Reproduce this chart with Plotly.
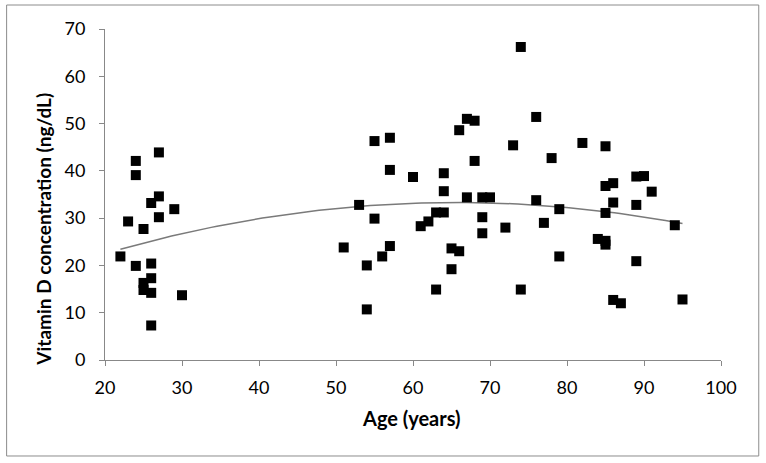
import numpy as np
import plotly.graph_objects as go

# age (years) and vitamin D (ng/dL)
age = [22, 23, 24, 24, 24, 25, 25, 25, 26, 26, 26, 26, 26, 27, 27, 27, 29, 30,
       51, 53, 54, 54, 55, 55, 56, 57, 57, 57, 60, 61, 62, 63, 63, 64, 64, 64,
       65, 65, 66, 66, 67, 67, 68, 68, 69, 69, 69, 70, 72, 73, 74, 74, 76, 76,
       77, 78, 79, 79, 82, 84, 85, 85, 85, 85, 85, 86, 86, 86, 87, 89, 89, 89,
       90, 91, 94, 95]
vit_d = [21.9, 29.3, 42.1, 39.1, 19.9, 27.7, 16.3, 14.8, 33.2, 20.4, 17.3, 14.2, 7.3,
         43.9, 34.6, 30.2, 31.9, 13.7,
         23.8, 32.8, 20.0, 10.7, 46.3, 29.9, 21.9, 47.0, 40.2, 24.1, 38.7, 28.3,
         29.3, 31.2, 14.9, 31.2, 35.7, 39.5, 23.6, 19.2, 23.0, 48.6, 51.0, 34.4,
         50.6, 42.1, 34.4, 30.2, 26.8, 34.4, 28.0, 45.4, 66.2, 14.9, 51.4, 33.8,
         29.0, 42.7, 31.9, 21.9, 45.9, 25.6, 45.2, 36.8, 31.1, 25.2, 24.4, 37.4,
         33.3, 12.7, 12.0, 38.8, 32.8, 20.9, 38.9, 35.6, 28.5, 12.8]

x_ticks = [20, 30, 40, 50, 60, 70, 80, 90, 100]
y_ticks = [0, 10, 20, 30, 40, 50, 60, 70]

# 2nd order polynomial trendline, like the Excel one
coef = np.polyfit(age, vit_d, 2)
trend_x = np.linspace(min(age), max(age), 100)
trend_y = np.polyval(coef, trend_x)

fig = go.Figure()
fig.add_trace(go.Scatter(x=trend_x, y=trend_y, mode="lines",
                         line=dict(color="#7a7a7a", width=1.5), hoverinfo="skip"))
fig.add_trace(go.Scatter(x=age, y=vit_d, mode="markers",
                         marker=dict(symbol="square", size=10, color="black")))

axis_style = dict(showgrid=False, zeroline=False, showline=True, linecolor="#888888",
                  linewidth=1, ticks="outside", ticklen=5, tickcolor="#888888",
                  tickfont=dict(family="Lato", size=18, color="black"))

fig.update_xaxes(range=[20, 100], tickvals=x_ticks, ticklabelstandoff=6, **axis_style)
fig.update_yaxes(range=[0, 70], tickvals=y_ticks, ticklabelstandoff=10, **axis_style)

# outer chart border
fig.add_shape(type="rect", xref="paper", yref="paper", layer="above",
              x0=-0.1597, x1=1.0613, y0=-0.29, y1=1.0725,
              line=dict(color="#8c8c8c", width=1))

fig.add_annotation(text="<b>Age (years)</b>", xref="paper", yref="paper",
                   x=0.497, y=-0.175, xanchor="center", yanchor="middle", showarrow=False,
                   font=dict(family="Lato", size=20, color="black"))
fig.add_annotation(text="<b>Vitamin D concentration (ng/dL)</b>", xref="paper", yref="paper",
                   x=-0.1, y=0.395, xanchor="center", yanchor="middle", textangle=-90,
                   showarrow=False, font=dict(family="Lato", size=19, color="black"))

fig.update_layout(width=766, height=463, showlegend=False,
                  plot_bgcolor="white", paper_bgcolor="white",
                  margin=dict(l=104.5, r=44.7, t=29, b=103))

# drop the default 8px page margin so the chart sits at the window corner
fig.write_html("out.html", config={"displayModeBar": False},
               post_script="document.body.style.margin='0';")
